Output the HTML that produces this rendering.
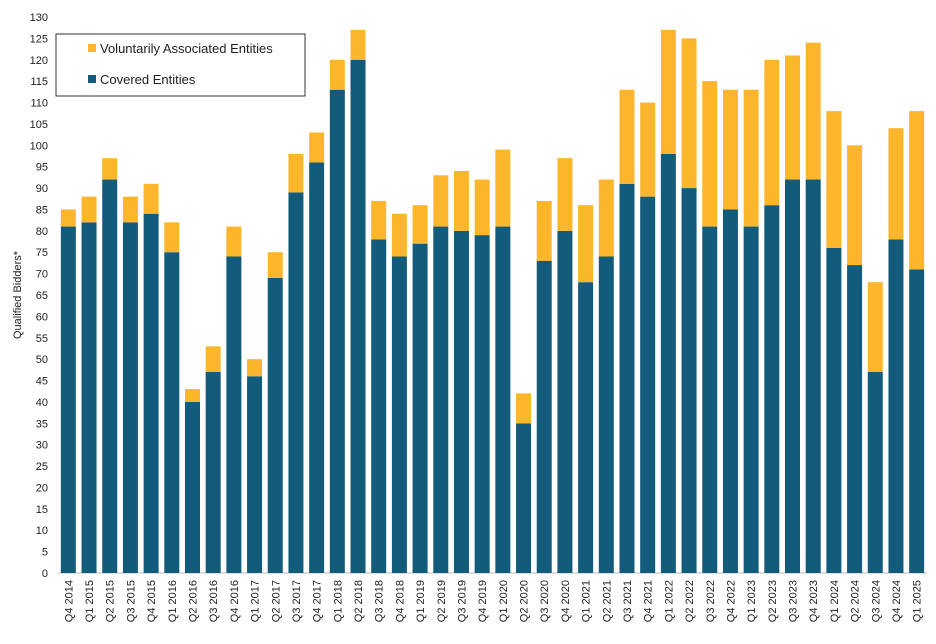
<!DOCTYPE html>
<html><head><meta charset="utf-8"><style>
body{margin:0;background:#fff;font-family:"Liberation Sans",sans-serif}
</style></head><body>
<svg id="chart" width="936" height="639" xmlns="http://www.w3.org/2000/svg" font-family="Liberation Sans, sans-serif">
<g id="grid"></g><g id="bars"></g><g id="xlabels"></g><g id="ylabels"></g>
<text transform="translate(21,295) rotate(-90)" text-anchor="middle" font-size="11" fill="#222">Qualified Bidders*</text>
<g>
<rect x="56" y="34" width="249" height="62" fill="#fff" stroke="#333" stroke-width="1"/>
<rect x="88" y="44" width="8" height="8" fill="#fbb62c"/>
<text x="100" y="53" font-size="13" fill="#222">Voluntarily Associated Entities</text>
<rect x="88" y="75" width="8" height="8" fill="#135b7a"/>
<text x="100" y="84" font-size="13" fill="#222">Covered Entities</text>
</g>
</svg>
<script>
const categories=["Q4 2014","Q1 2015","Q2 2015","Q3 2015","Q4 2015","Q1 2016","Q2 2016","Q3 2016","Q4 2016","Q1 2017","Q2 2017","Q3 2017","Q4 2017","Q1 2018","Q2 2018","Q3 2018","Q4 2018","Q1 2019","Q2 2019","Q3 2019","Q4 2019","Q1 2020","Q2 2020","Q3 2020","Q4 2020","Q1 2021","Q2 2021","Q3 2021","Q4 2021","Q1 2022","Q2 2022","Q3 2022","Q4 2022","Q1 2023","Q2 2023","Q3 2023","Q4 2023","Q1 2024","Q2 2024","Q3 2024","Q4 2024","Q1 2025"];
const covered=[81,82,92,82,84,75,40,47,74,46,69,89,96,113,120,78,74,77,81,80,79,81,35,73,80,68,74,91,88,98,90,81,85,81,86,92,92,76,72,47,78,71];
const voluntary=[4,6,5,6,7,7,3,6,7,4,6,9,7,7,7,9,10,9,12,14,13,18,7,14,17,18,18,22,22,29,35,34,28,32,34,29,32,32,28,21,26,37];
const yTicks=[0,5,10,15,20,25,30,35,40,45,50,55,60,65,70,75,80,85,90,95,100,105,110,115,120,125,130];
const NS="http://www.w3.org/2000/svg";
const x0=58,x1=927,yBase=573,yTop=17,yMax=130,bw=15;
const band=(x1-x0)/categories.length;
const y=v=>yBase-(v/yMax)*(yBase-yTop);
const xc=i=>x0+(i+0.5)*band;
function mk(t,a,p){const e=document.createElementNS(NS,t);for(const k in a)e.setAttribute(k,a[k]);p.appendChild(e);return e;}
const bars=document.getElementById('bars'),xl=document.getElementById('xlabels'),yl=document.getElementById('ylabels');
mk('line',{x1:x0,y1:yBase,x2:x1,y2:yBase,stroke:'#bbb'},document.getElementById('grid'));
yTicks.forEach(t=>{const e=mk('text',{x:48,y:y(t)+4,'text-anchor':'end','font-size':11,fill:'#222'},yl);e.textContent=t;

});
categories.forEach((c,i)=>{
const a=mk('rect',{x:xc(i)-bw/2,y:y(covered[i]),width:bw,height:yBase-y(covered[i]),fill:'#135b7a'},bars);


const tot=covered[i]+voluntary[i];
const b=mk('rect',{x:xc(i)-bw/2,y:y(tot),width:bw,height:y(covered[i])-y(tot),fill:'#fbb62c'},bars);


const t=mk('text',{transform:`translate(${xc(i)+4},580) rotate(-90)`,'text-anchor':'end','font-size':11,fill:'#222'},xl);t.textContent=c;


});
</script>
</body></html>
